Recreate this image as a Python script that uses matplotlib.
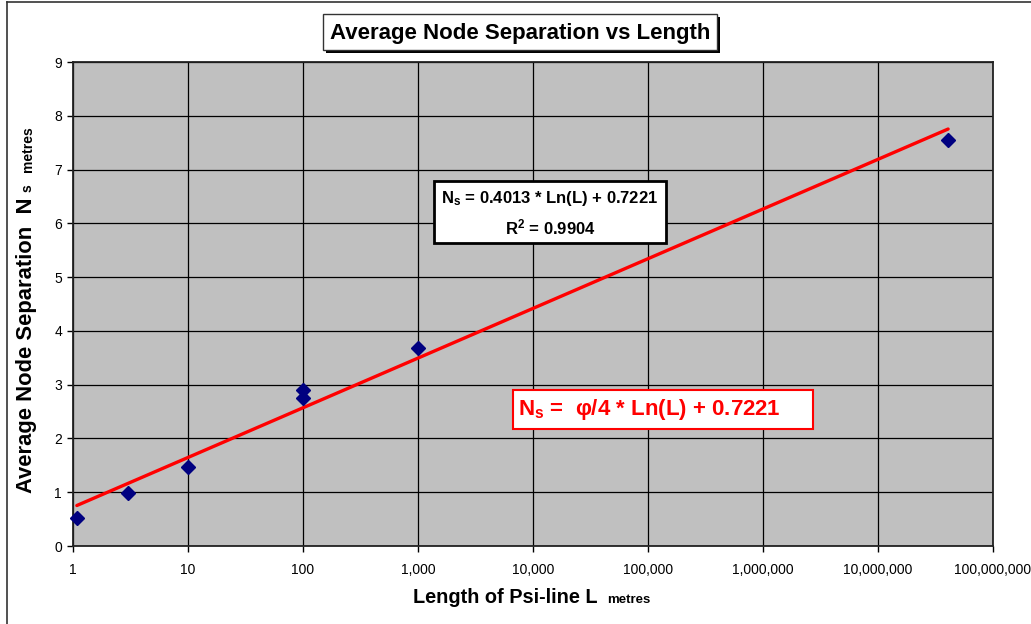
import numpy as np
import matplotlib
matplotlib.use("Agg")
import matplotlib.pyplot as plt
from matplotlib.patches import Rectangle
from matplotlib.lines import Line2D
from matplotlib.ticker import FixedLocator, FuncFormatter

plt.rcParams['font.family'] = ['Liberation Sans', 'DejaVu Sans']
plt.rcParams['mathtext.fontset'] = 'custom'
plt.rcParams['mathtext.rm'] = 'Liberation Sans:bold'
plt.rcParams['mathtext.bf'] = 'Liberation Sans:bold'
plt.rcParams['mathtext.it'] = 'Liberation Sans:bold'

# data
length_m = [1.08, 3, 10, 100, 100, 1000, 4.07e7]
node_sep = [0.52, 0.99, 1.46, 2.76, 2.90, 3.69, 7.55]

# trendline coefficients as printed on the chart
slope = 0.4013
intercept = 0.7221
r_squared = 0.9904

x_ticks = [1, 10, 100, 1000, 1e4, 1e5, 1e6, 1e7, 1e8]
y_ticks = list(range(0, 10))

W, H = 1031, 624
fig = plt.figure(figsize=(W / 100, H / 100), dpi=100)


def fx(x):
    return x / W


def fy(y):
    return 1 - y / H


ax = fig.add_axes([fx(73), fy(546), fx(993) - fx(73), fy(62) - fy(546)])
ax.set_facecolor('#C0C0C0')
ax.set_xscale('log')
ax.set_xlim(1, 1e8)
ax.set_ylim(0, 9)

ax.xaxis.set_major_locator(FixedLocator(x_ticks))
ax.xaxis.set_minor_locator(FixedLocator([]))
ax.xaxis.set_major_formatter(FuncFormatter(lambda v, p: f"{int(round(v)):,}"))
ax.set_yticks(y_ticks)
ax.tick_params(axis='both', direction='out', length=4, width=1, color='black',
               labelsize=10, pad=4)
ax.tick_params(axis='x', pad=8)
ax.grid(True, which='major', color='black', linewidth=0.9)
ax.set_axisbelow(True)
for sp in ax.spines.values():
    sp.set_linewidth(1.3)
    sp.set_color('#222222')

# trendline
xt = np.logspace(np.log10(min(length_m)), np.log10(max(length_m)), 50)
ax.plot(xt, slope * np.log(xt) + intercept, color='#FF0000', linewidth=2.4,
        solid_capstyle='round', zorder=3)

# data points
ax.plot(length_m, node_sep, linestyle='none', marker='D', markersize=7,
        color='#000080', zorder=4, clip_on=False)

# figure border (left and top only visible)
fig.add_artist(Line2D([fx(7), fx(7)], [fy(2), -0.01], color='#333333', linewidth=1.2))
fig.add_artist(Line2D([fx(7), 1.01], [fy(2), fy(2)], color='#333333', linewidth=1.2))

# title box with shadow
fig.add_artist(Rectangle((fx(326), fy(53)), fx(717) - fx(323), fy(14) - fy(50),
                         facecolor='black', edgecolor='none', transform=fig.transFigure))
fig.add_artist(Rectangle((fx(323), fy(50)), fx(717) - fx(323), fy(14) - fy(50),
                         facecolor='white', edgecolor='#333333', linewidth=1,
                         transform=fig.transFigure))
fig.text(fx(520), fy(33), "Average Node Separation vs Length", ha='center', va='center',
         fontsize=16, fontweight='bold')

# regression equation box
fig.add_artist(Rectangle((fx(434), fy(243)), fx(666) - fx(434), fy(181) - fy(243),
                         facecolor='white', edgecolor='black', linewidth=2,
                         transform=fig.transFigure))
fig.text(fx(550), fy(199), r"N$_\mathbf{s}$ = %.4f * Ln(L) + %.4f" % (slope, intercept),
         ha='center', va='center', fontsize=12, fontweight='bold')
fig.text(fx(550), fy(227), r"R$^\mathbf{2}$ = %.4f" % r_squared,
         ha='center', va='center', fontsize=12, fontweight='bold')

# red phi equation box
fig.add_artist(Rectangle((fx(513), fy(429)), fx(813) - fx(513), fy(390) - fy(429),
                         facecolor='white', edgecolor='#FF0000', linewidth=1.5,
                         transform=fig.transFigure))
fig.text(fx(518), fy(409), r"N$_\mathbf{s}$ =  φ/4 * Ln(L) + %.4f" % intercept,
         ha='left', va='center', fontsize=16, fontweight='bold', color='#FF0000')

fig.canvas.draw()
renderer = fig.canvas.get_renderer()

# x label: main part + small "metres"
xl = fig.text(fx(413), fy(603), "Length of Psi-line L", ha='left', va='baseline',
              fontsize=14.3, fontweight='bold')
bb = xl.get_window_extent(renderer)
fig.text((bb.x1 + 10) / W, fy(603), "metres", ha='left', va='baseline',
         fontsize=9.5, fontweight='bold')

# y label: main part + small "s  metres"
yl = fig.text(fx(32), fy(493), "Average Node Separation  N", rotation=90,
              rotation_mode='anchor', ha='left', va='baseline',
              fontsize=15.8, fontweight='bold')
bb = yl.get_window_extent(renderer)
ys = fig.text(fx(32), (bb.y1 + 6) / H, "s", rotation=90, rotation_mode='anchor',
              ha='left', va='baseline', fontsize=10, fontweight='bold')
bs = ys.get_window_extent(renderer)
fig.text(fx(32), (bs.y1 + 12) / H, "metres", rotation=90, rotation_mode='anchor',
         ha='left', va='baseline', fontsize=10, fontweight='bold')

fig.savefig("out.png", dpi=100)
